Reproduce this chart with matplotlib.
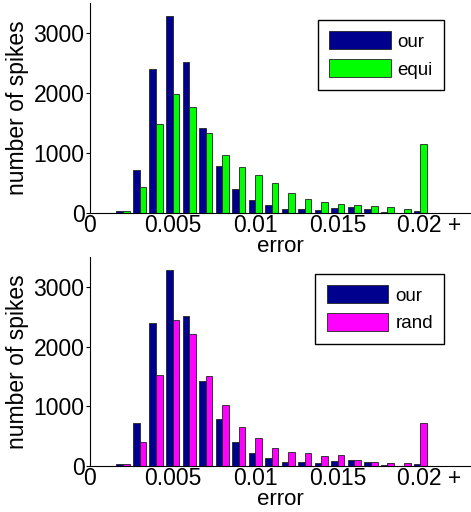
import numpy as np
import matplotlib.pyplot as plt

plt.rcParams['font.family'] = ['Liberation Sans', 'DejaVu Sans']

# bin centres of the error histogram (last bin collects everything >= 0.02)
bins = np.arange(1, 21) * 0.001

our = [3, 39, 722, 2400, 3278, 2517, 1417, 789, 405, 217,
       133, 72, 67, 56, 89, 106, 61, 22, 5, 39]
equi = [5, 39, 433, 1483, 1983, 1767, 1333, 967, 761, 628,
        506, 333, 239, 183, 150, 128, 122, 106, 61, 1150]
rand = [2, 28, 406, 1517, 2439, 2206, 1506, 1028, 644, 467,
        306, 239, 217, 161, 178, 94, 72, 44, 44, 711]

xticks = [0, 0.005, 0.01, 0.015, 0.0205]
xticklabels = ["0", "0.005", "0.01", "0.015", "0.02 +"]
yticks = [0, 1000, 2000, 3000]

blue = "#00008f"
colors = ["#00ff00", "#ff00ff"]
names = ["equi", "rand"]

fig = plt.figure(figsize=(4.71, 5.12), dpi=100)
ax_top = fig.add_axes([0.191, 0.584, 0.807, 0.41])
ax_bot = fig.add_axes([0.191, 0.090, 0.807, 0.408])

w = 0.0004
for ax, other, col, name in zip([ax_top, ax_bot], [equi, rand], colors, names):
	ax.bar(bins - w/2, our, width=w, color=blue, edgecolor="#222222", linewidth=0.6, label="our")
	ax.bar(bins + w/2, other, width=w, color=col, edgecolor="#222222", linewidth=0.6, label=name)

	ax.set_xlim(0, 0.023)
	ax.set_ylim(0, 3500)
	ax.set_xticks(xticks)
	ax.set_xticklabels(xticklabels)
	ax.set_yticks(yticks)
	ax.tick_params(axis='x', length=0, labelsize=16.5, pad=1)
	ax.tick_params(axis='y', direction='out', length=3, labelsize=16.5, pad=1)
	ax.spines['top'].set_visible(False)
	ax.spines['right'].set_visible(False)
	ax.set_xlabel("error", fontsize=16, labelpad=-1)
	ax.set_ylabel("number of spikes", fontsize=16.5, labelpad=3)

	leg = ax.legend(loc='upper right', bbox_to_anchor=(0.932, 0.919), borderaxespad=0,
	                fontsize=13.5, handlelength=3.3, handleheight=1.1, handletextpad=0.37,
	                labelspacing=0.45, borderpad=0.6, fancybox=False, framealpha=1)
	leg.get_frame().set_edgecolor("black")
	leg.get_frame().set_linewidth(1.0)

fig.savefig("out.png", dpi=100)
